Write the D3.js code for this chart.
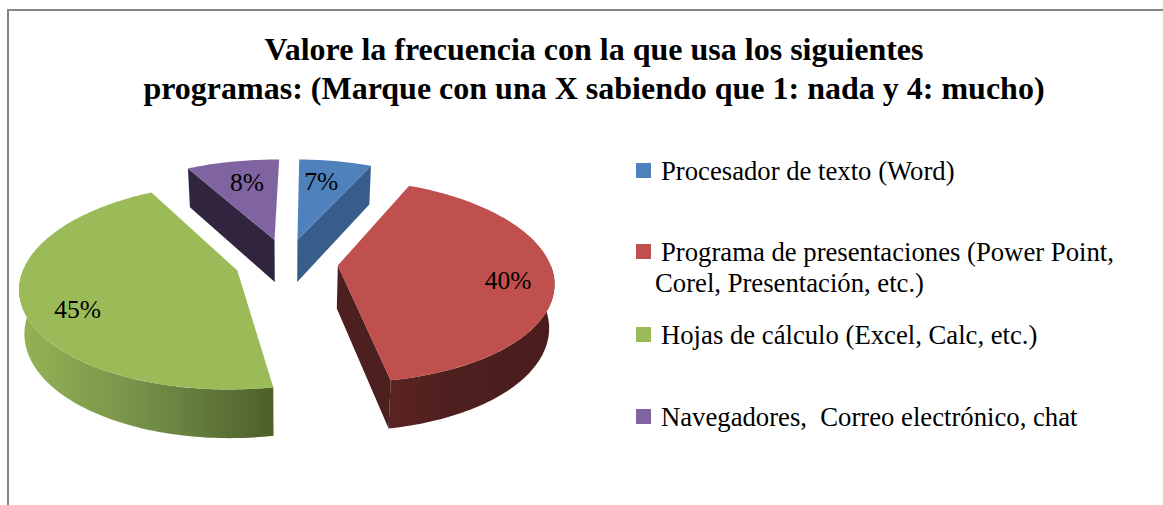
<!DOCTYPE html>
<html>
<head>
<meta charset="utf-8">
<script src="https://cdnjs.cloudflare.com/ajax/libs/d3/7.8.5/d3.min.js"></script>
<style>
	html, body { margin: 0; padding: 0; background: #fff; overflow: hidden; }
	text { font-family: "Liberation Serif", serif; fill: #000; white-space: pre; }
</style>
</head>
<body>
<script>
// chart values
titleLines = [
	'Valore la frecuencia con la que usa los siguientes',
	'programas: (Marque con una X sabiendo que 1: nada y 4: mucho)'
];
categories = [
	'Procesador de texto (Word)',
	'Programa de presentaciones (Power Point,',
	'Hojas de cálculo (Excel, Calc, etc.)',
	'Navegadores,  Correo electrónico, chat'
];
continuation = [null, 'Corel, Presentación, etc.)', null, null];
// the labels only give whole percents, slice sizes estimated a bit finer
values = [6.5, 40.4, 44.8, 8.3];
topColors = ['#4f81bd', '#c0504d', '#9bbb59', '#8064a2'];
faceColors = ['#385d8a', '#4d1f1e', 'none', '#31243f'];

width = 1163, height = 505;
svg = d3.select('body').append('svg')
	.attr('width', width)
	.attr('height', height);

// border runs off the right and bottom of the picture
svg.append('path')
	.attr('d', d3.line()([[8, height], [8, 10], [width, 10]]))
	.attr('fill', 'none')
	.attr('stroke', '#868686')
	.attr('stroke-width', 2);

svg.selectAll('text.title')
	.data(titleLines)
	.enter().append('text')
	.attr('class', 'title')
	.attr('x', 594)
	.attr('y', (d, i) => 60 + i * 38.5)
	.attr('text-anchor', 'middle')
	.attr('font-size', 32)
	.attr('font-weight', 'bold')
	.text(d => d);

// perspective of the tilted pie
vx = 286.5, vy = 262.5, tilt = 0.465, persp = 0.0007;
R = 212, explode = 51.5, depth = 43, shrink = 0.98;
rotation = Math.PI / 180;

function project(x, y, lower) {
	w = 1 + persp * y;
	s = lower ? shrink : 1;
	return [vx + s * x / w, vy - s * y * tilt / w + (lower ? depth / w : 0)];
}
// point of a slice, angle clockwise from 12 o'clock, r in pie units
function slicePoint(d, angle, r, lower) {
	mid = (d.startAngle + d.endAngle) / 2;
	x = explode * Math.sin(mid) + r * Math.sin(angle);
	y = explode * Math.cos(mid) + r * Math.cos(angle);
	return project(x, y, lower);
}
function arcAngles(a0, a1) {
	n = Math.max(2, Math.ceil((a1 - a0) / 0.02));
	return d3.range(n + 1).map(i => a0 + (a1 - a0) * i / n);
}
toPath = d3.line().curve(d3.curveLinear);

slices = d3.pie().sort(null).value(d => d)
	.startAngle(rotation).endAngle(2 * Math.PI + rotation)(values);
color = d3.scaleOrdinal().domain(d3.range(4)).range(topColors);
faceColor = d3.scaleOrdinal().domain(d3.range(4)).range(faceColors);

defs = svg.append('defs');
greenSide = defs.append('linearGradient')
	.attr('id', 'greenSide')
	.attr('gradientUnits', 'userSpaceOnUse')
	.attr('x1', 25).attr('x2', 275).attr('y1', 0).attr('y2', 0);
greenSide.append('stop').attr('offset', 0).attr('stop-color', '#93b254');
greenSide.append('stop').attr('offset', 0.45).attr('stop-color', '#76924a');
greenSide.append('stop').attr('offset', 1).attr('stop-color', '#4d5f2a');
redSide = defs.append('linearGradient')
	.attr('id', 'redSide')
	.attr('gradientUnits', 'userSpaceOnUse')
	.attr('x1', 386).attr('x2', 550).attr('y1', 0).attr('y2', 0);
redSide.append('stop').attr('offset', 0).attr('stop-color', '#5b2422');
redSide.append('stop').attr('offset', 0.4).attr('stop-color', '#4d1f1e');
redSide.append('stop').attr('offset', 1).attr('stop-color', '#4a1d1c');

// which cut edge shows its wall: end of blue and red, start of purple
wallEdge = ['endAngle', 'endAngle', null, 'startAngle'];
// back slices first
drawOrder = [3, 0, 1, 2];

drawOrder.forEach(function(i) {
	d = slices[i];
	g = svg.append('g');
	if (wallEdge[i]) {
		a = d[wallEdge[i]];
		g.append('path')
			.attr('d', toPath([
				slicePoint(d, a, 0, false), slicePoint(d, a, R, false),
				slicePoint(d, a, R, true), slicePoint(d, a, 0, true)
			]) + 'Z')
			.attr('fill', faceColor(i));
	}
	a0 = Math.max(d.startAngle, Math.PI / 2);
	a1 = Math.min(d.endAngle, 3 * Math.PI / 2);
	if (a1 > a0) {
		angles = arcAngles(a0, a1);
		rim = angles.map(a => slicePoint(d, a, R, false))
			.concat(angles.slice().reverse().map(a => slicePoint(d, a, R, true)));
		g.append('path')
			.attr('d', toPath(rim) + 'Z')
			.attr('fill', i == 2 ? 'url(#greenSide)' : 'url(#redSide)');
	}
	outline = [slicePoint(d, 0, 0, false)]
		.concat(arcAngles(d.startAngle, d.endAngle).map(a => slicePoint(d, a, R, false)));
	g.append('path')
		.attr('d', toPath(outline) + 'Z')
		.attr('fill', color(i));
});

// percent labels: how far out along the slice, and degrees off its middle
labelFrac = [0.72, 0.79, 0.78, 0.71];
labelTurn = [-2, 3, -8, 1.5];
function labelPoint(d, i) {
	a = (d.startAngle + d.endAngle) / 2 + labelTurn[i] * Math.PI / 180;
	return slicePoint(d, a, R * labelFrac[i], false);
}
svg.selectAll('text.pct')
	.data(slices)
	.enter().append('text')
	.attr('class', 'pct')
	.attr('x', (d, i) => labelPoint(d, i)[0])
	.attr('y', (d, i) => labelPoint(d, i)[1] + 9)
	.attr('text-anchor', 'middle')
	.attr('font-size', 25.5)
	.text(d => Math.round(d.value) + '%');

// legend
legendY = [169.5, 251, 334, 415.5];
legend = svg.selectAll('g.legend')
	.data(categories)
	.enter().append('g')
	.attr('class', 'legend');
legend.append('rect')
	.attr('x', 636)
	.attr('y', (d, i) => Math.round(legendY[i]) - 7)
	.attr('width', 15)
	.attr('height', 15)
	.attr('fill', (d, i) => color(i));
legend.append('text')
	.attr('x', 661)
	.attr('y', (d, i) => legendY[i] + 10)
	.attr('font-size', 26.7)
	.text(d => d);
legend.filter((d, i) => continuation[i]).append('text')
	.attr('x', 655)
	.attr('y', (d, i) => legendY[1] + 41)
	.attr('font-size', 26.7)
	.text(d => continuation[categories.indexOf(d)]);
</script>
</body>
</html>
